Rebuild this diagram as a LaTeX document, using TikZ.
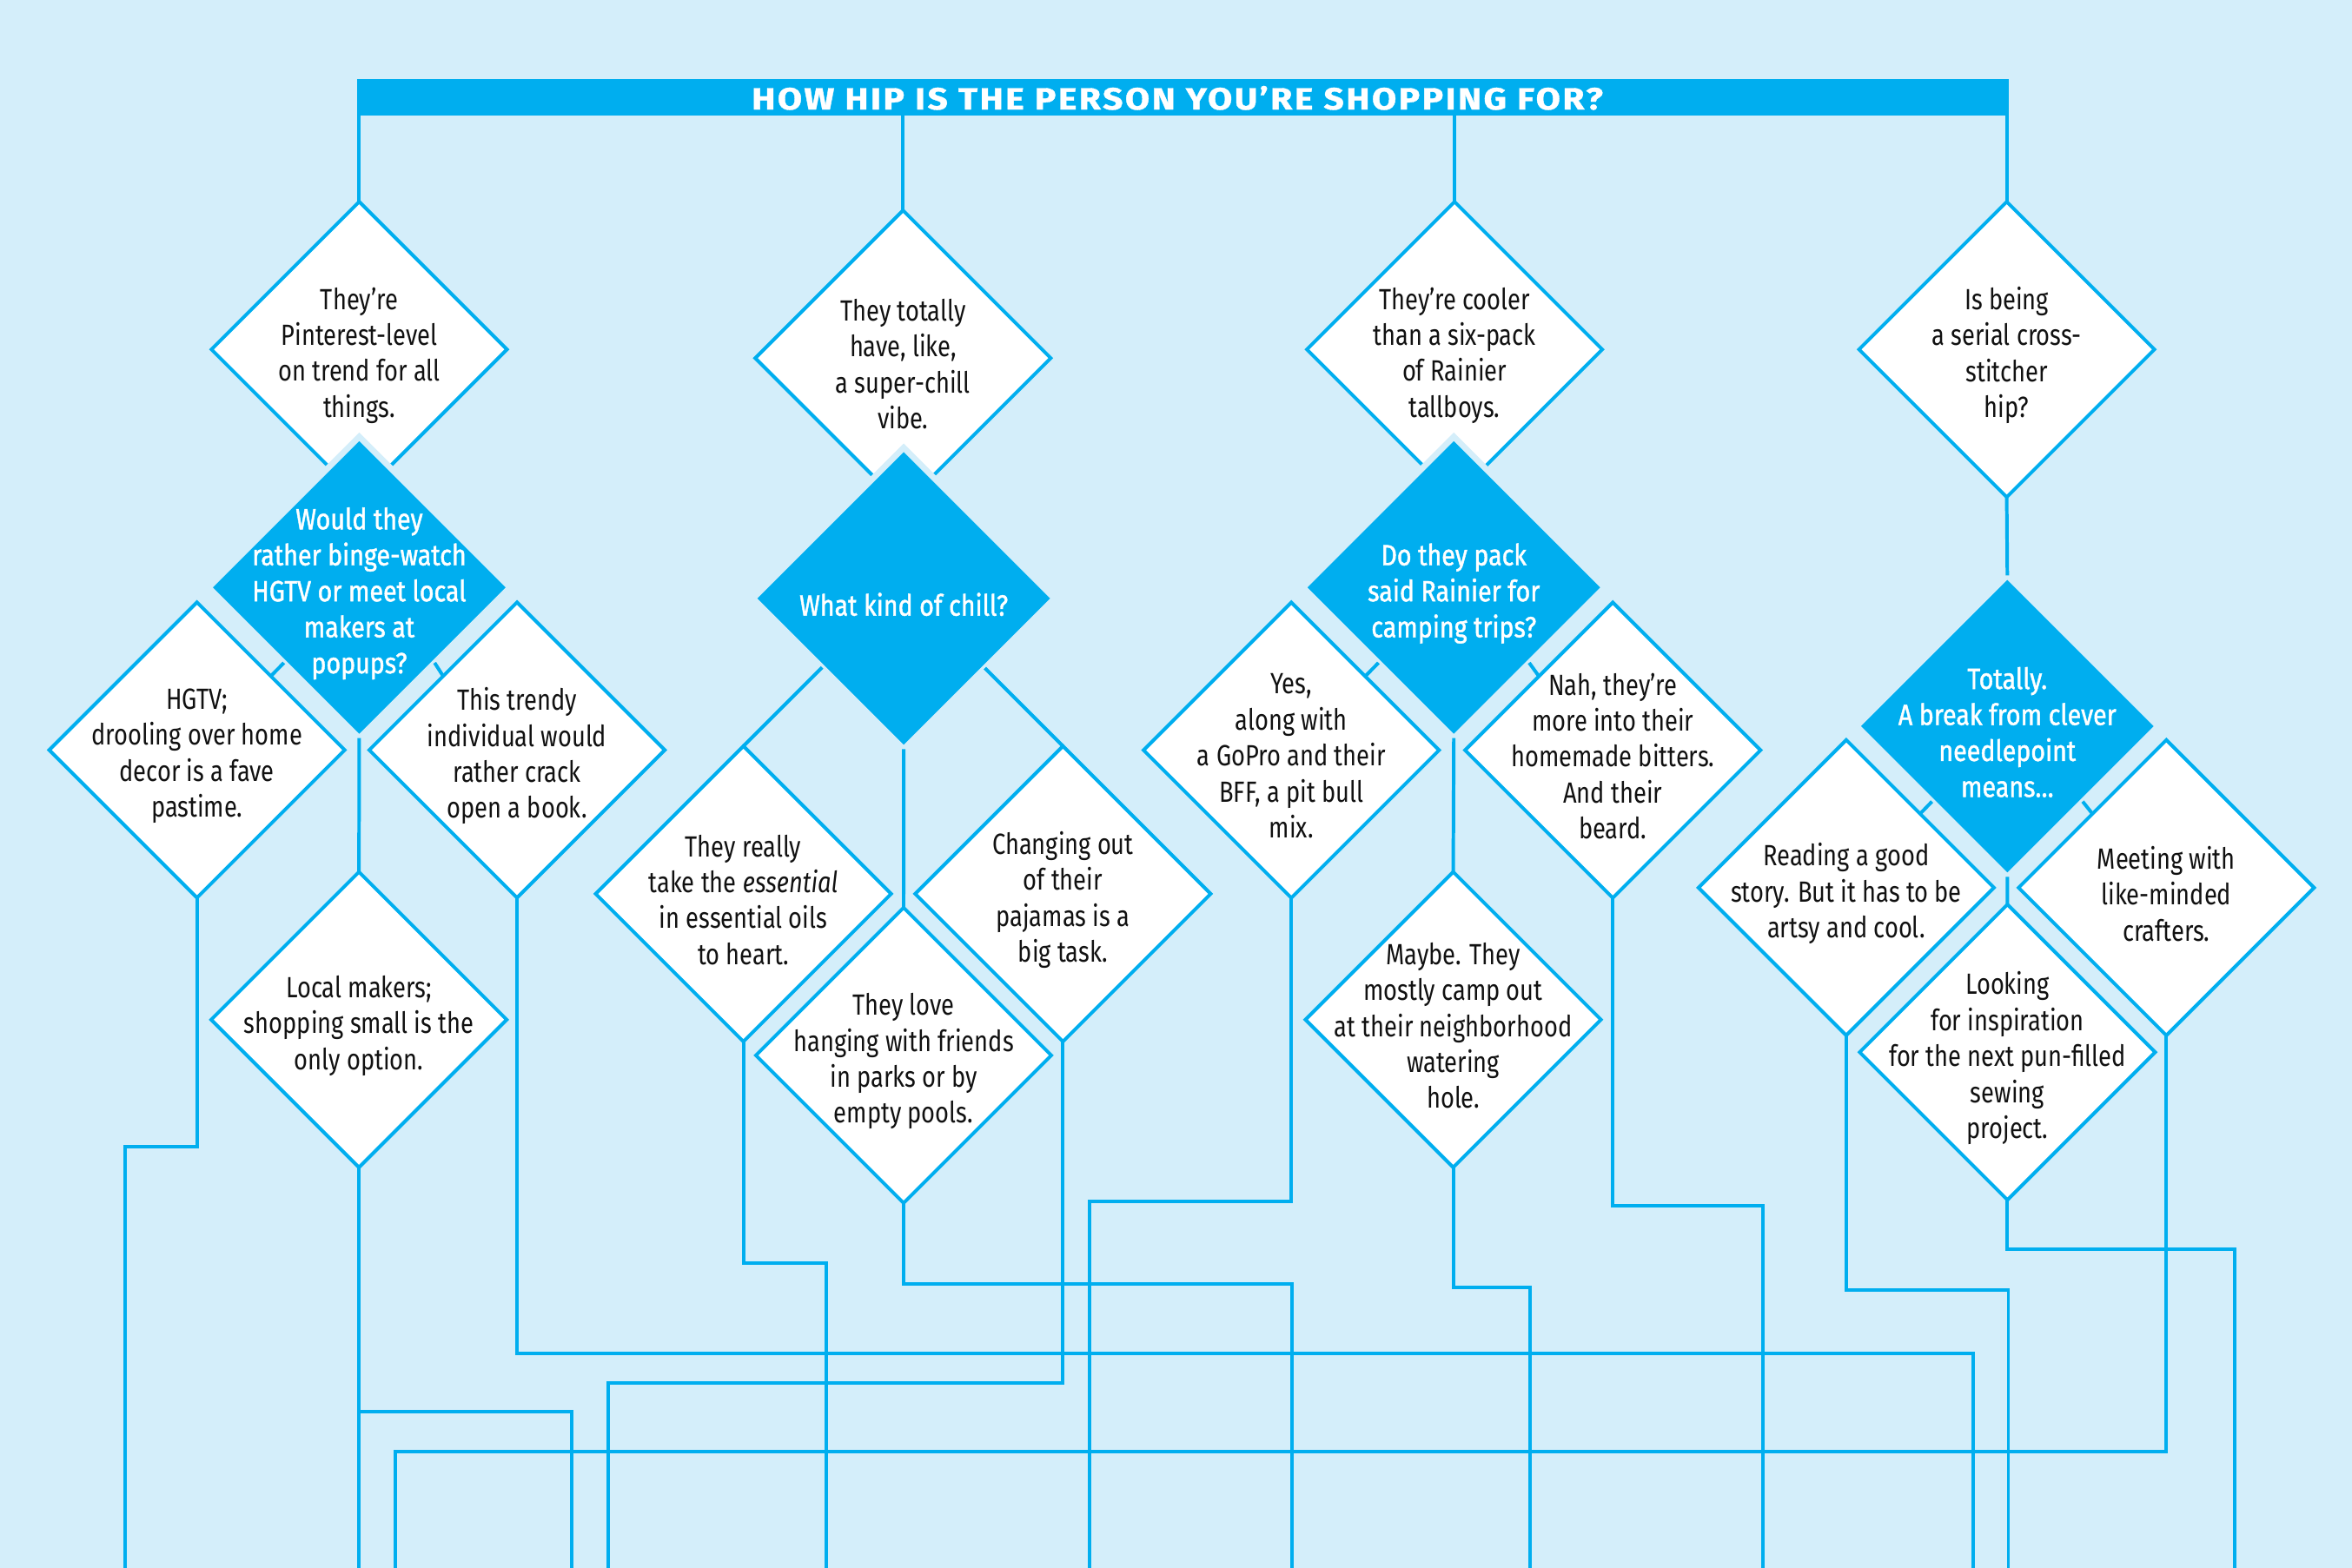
\documentclass[tikz,border=0pt]{standalone}
\usepackage{fontspec}
\usepackage{graphicx}
\setmainfont{Fira Sans}[FakeStretch=0.81]
\newfontfamily\kfont{Fira Sans}[FakeStretch=0.85, FakeBold=1.3]
\newfontfamily\titlefont{Fira Sans}[LetterSpace=6, FakeBold=1.0]
\usetikzlibrary{shapes.geometric}
\definecolor{hipbg}{RGB}{212,238,250}
\definecolor{hipblue}{RGB}{0,174,239}
\definecolor{hipink}{RGB}{17,17,17}
\begin{document}
\begin{tikzpicture}[x=1pt,y=-1pt,
  conn/.style={draw=hipblue, line width=2.3pt},
  qbox/.style={diamond, aspect=1, minimum width=197pt, minimum height=197pt,
    inner sep=0pt, outer sep=0pt, draw=hipblue, line width=2.3pt, fill=white},
  kbox/.style={diamond, aspect=1, minimum width=201pt, minimum height=201pt,
    inner sep=0pt, outer sep=0pt, draw=hipbg, line width=4pt, fill=hipblue},
  qtext/.style={align=center, font=\fontsize{19.5}{24}\selectfont, text=hipink, inner sep=0pt, yshift=-4pt},
  ktext/.style={align=center, font=\kfont\fontsize{19.5}{24}\selectfont, text=white, inner sep=0pt, yshift=-4pt},
  ttext/.style={text=white, inner sep=0pt, font=\titlefont\bfseries\fontsize{20.5}{24}\selectfont}
]
\useasboundingbox (0,0) rectangle (1568,1045.5);
\fill[hipbg] (0,0) rectangle (1568,1045.5);

% title bar
\node[fill=hipblue, minimum width=1101pt, minimum height=24pt, inner sep=0pt, outer sep=0pt,
  anchor=north west] (bar) at (238.3,52.9) {};
\node[ttext, anchor=base] (title) at (784.9,73) {\resizebox{567.4pt}{\height}{HOW HIP IS THE PERSON YOU’RE SHOPPING FOR?}};

% top row
\node[qbox] (D1) at (239.5,233) {};
\node[qbox] (D2) at (602,238.8) {};
\node[qbox] (D3) at (969.7,233) {};
\node[qbox] (D4) at (1337.8,233) {};
\foreach \n in {D1,D2,D3,D4} \draw[conn] (\n.north) -- (\n.north |- bar.south);

% dark questions
\node[kbox] (K1) at (239.5,391.7) {};
\node[kbox] (K2) at (602.5,399) {};
\node[kbox] (K3) at (969.2,391.7) {};
\node[kbox] (K4) at (1338.2,484.2) {};

% answers
\node[qbox] (A1) at (131.3,500.1) {};
\node[qbox] (A2) at (344.7,500.1) {};
\node[qbox] (A3) at (239.3,679.9) {};
\node[qbox] (A4) at (495.6,596) {};
\node[qbox] (A5) at (708.6,596) {};
\node[qbox] (A6) at (602.4,703.7) {};
\node[qbox] (A7) at (860.9,500.2) {};
\node[qbox] (A8) at (1075.2,500.2) {};
\node[qbox] (A9) at (968.8,679.9) {};
\node[qbox] (A10) at (1230.8,591.9) {};
\node[qbox] (A11) at (1444.2,591.9) {};
\node[qbox] (A12) at (1338.3,701.6) {};

% connectors between diamonds
\draw[conn] (D4.south) -- (K4.north);
\draw[conn] (K1.south) -- (A3.north);
\draw[conn] (K2.south) -- (A6.north);
\draw[conn] (K3.south) -- (A9.north);
\draw[conn] (K4.south) -- (A12.north);
\draw[conn] (A1.north east) -- (K1.south west);
\draw[conn] (A2.north west) -- (K1.south east);
\draw[conn] (A7.north east) -- (K3.south west);
\draw[conn] (A8.north west) -- (K3.south east);
\draw[conn] (A10.north east) -- (K4.south west);
\draw[conn] (A11.north west) -- (K4.south east);
\draw[conn] (A4.north) -- (intersection of A4.west--A4.north and K2.west--K2.south);
\draw[conn] (A5.north) -- (intersection of A5.east--A5.north and K2.east--K2.south);

% texts
\node[qtext] (D1t) at (D1) {They’re\\Pinterest-level\\on trend for all\\things.};
\node[qtext] (D2t) at (D2) {They totally\\have, like,\\a super-chill\\vibe.};
\node[qtext] (D3t) at (D3) {They’re cooler\\than a six-pack\\of Rainier\\tallboys.};
\node[qtext] (D4t) at (D4) {Is being\\a serial cross-\\stitcher\\hip?};
\node[ktext] (K1t) at (K1) {Would they\\rather binge-watch\\HGTV or meet local\\makers at\\popups?};
\node[ktext] (K2t) at (K2) {What kind of chill?};
\node[ktext] (K3t) at (K3) {Do they pack\\said Rainier for\\camping trips?};
\node[ktext] (K4t) at (K4) {Totally.\\A break from clever\\needlepoint\\means…};
\node[qtext] (A1t) at (A1) {HGTV;\\drooling over home\\decor is a fave\\pastime.};
\node[qtext] (A2t) at (A2) {This trendy\\individual would\\rather crack\\open a book.};
\node[qtext] (A3t) at (A3) {Local makers;\\shopping small is the\\only option.};
\node[qtext] (A4t) at (A4) {They really\\take the \textit{essential}\\in essential oils\\to heart.};
\node[qtext] (A5t) at (A5) {Changing out\\of their\\pajamas is a\\big task.};
\node[qtext] (A6t) at (A6) {They love\\hanging with friends\\in parks or by\\empty pools.};
\node[qtext] (A7t) at (A7) {Yes,\\along with\\a GoPro and their\\BFF, a pit bull\\mix.};
\node[qtext] (A8t) at (A8) {Nah, they’re\\more into their\\homemade bitters.\\And their\\beard.};
\node[qtext] (A9t) at (A9) {Maybe. They\\mostly camp out\\at their neighborhood\\watering\\hole.};
\node[qtext] (A10t) at (A10) {Reading a good\\story. But it has to be\\artsy and cool.};
\node[qtext] (A11t) at (A11) {Meeting with\\like-minded\\crafters.};
\node[qtext] (A12t) at (A12) {Looking\\for inspiration\\for the next pun-filled\\sewing\\project.};

% bottom routes
\coordinate (h1) at (83.5,764.4);   \coordinate (b1) at (83.5,1046);
\coordinate (h2) at (1315.4,902.2); \coordinate (b2) at (1315.4,1046);
\coordinate (b3) at (239.3,1046);
\coordinate (h3) at (381.2,941);    \coordinate (b3b) at (381.2,1046);
\coordinate (h4) at (550.7,842);    \coordinate (b4) at (550.7,1046);
\coordinate (h5) at (405.2,921.9);  \coordinate (b5) at (405.2,1046);
\coordinate (h6) at (861.3,855.9);  \coordinate (b6) at (861.3,1046);
\coordinate (h7) at (726.3,800.9);  \coordinate (b7) at (726.3,1046);
\coordinate (h8) at (1175.4,804);   \coordinate (b8) at (1175.4,1046);
\coordinate (h9) at (1019.8,858.4); \coordinate (b9) at (1019.8,1046);
\coordinate (h10) at (1338.9,860);  \coordinate (b10) at (1338.9,1046);
\coordinate (h11) at (263.6,967.7); \coordinate (b11) at (263.6,1046);
\coordinate (h12) at (1490,832.7);  \coordinate (b12) at (1490,1046);

\draw[conn] (A1.south) |- (h1) -- (b1);
\draw[conn] (A2.south) |- (h2) -- (b2);
\draw[conn] (A3.south) -- (b3);
\draw[conn] (A3.south |- h3) -- (h3) -- (b3b);
\draw[conn] (A4.south) |- (h4) -- (b4);
\draw[conn] (A5.south) |- (h5) -- (b5);
\draw[conn] (A6.south) |- (h6) -- (b6);
\draw[conn] (A7.south) |- (h7) -- (b7);
\draw[conn] (A8.south) |- (h8) -- (b8);
\draw[conn] (A9.south) |- (h9) -- (b9);
\draw[conn] (A10.south) |- (h10) -- (b10);
\draw[conn] (A11.south) |- (h11) -- (b11);
\draw[conn] (A12.south) |- (h12) -- (b12);
\end{tikzpicture}
\end{document}
